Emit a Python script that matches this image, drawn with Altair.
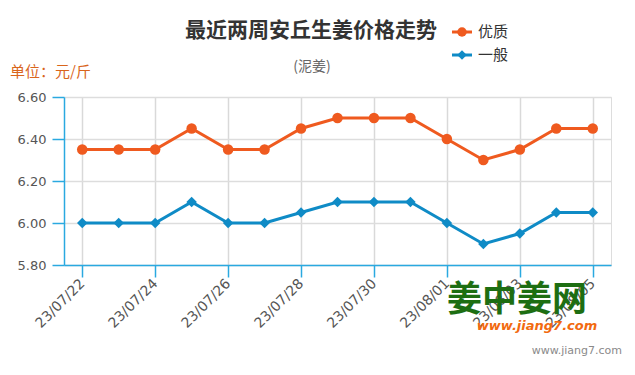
import altair as alt
import pandas as pd

dates = ["23/07/22", "23/07/23", "23/07/24", "23/07/25", "23/07/26", "23/07/27", "23/07/28",
         "23/07/29", "23/07/30", "23/07/31", "23/08/01", "23/08/02", "23/08/03", "23/08/04", "23/08/05"]
premium = [6.35, 6.35, 6.35, 6.45, 6.35, 6.35, 6.45, 6.50, 6.50, 6.50, 6.40, 6.30, 6.35, 6.45, 6.45]
ordinary = [6.00, 6.00, 6.00, 6.10, 6.00, 6.00, 6.05, 6.10, 6.10, 6.10, 6.00, 5.90, 5.95, 6.05, 6.05]
series_names = ["优质", "一般"]
colors = ["#ef5a1f", "#0f8bc6"]
shapes = ["circle", "diamond"]
y_ticks = [5.8, 6.0, 6.2, 6.4, 6.6]
x_tick_idx = [0, 2, 4, 6, 8, 10, 12, 14]

rows = []
for i, d in enumerate(dates):
    rows.append({"idx": i, "date": d, "series": series_names[0], "price": premium[i]})
    rows.append({"idx": i, "date": d, "series": series_names[1], "price": ordinary[i]})
df = pd.DataFrame(rows)

label_expr = "[" + ",".join("'%s'" % d for d in dates) + "][datum.value]"
AXIS_BLUE = "#2aa9e0"
NUM_FONT = "DejaVu Sans"
CJK = "Noto Sans CJK SC"

x_enc = alt.X("idx:Q",
              scale=alt.Scale(domain=[-0.5, len(dates) - 0.5], nice=False, zero=False),
              axis=alt.Axis(values=x_tick_idx, labelExpr=label_expr, title=None,
                            labelAngle=-45, labelAlign="right", labelBaseline="middle",
                            labelPadding=4, tickSize=12, tickColor=AXIS_BLUE,
                            domainColor=AXIS_BLUE, domainWidth=1.5, tickWidth=1.5,
                            grid=True, gridColor="#d9d9d9", gridWidth=1.5,
                            labelColor="#555555", labelFont=NUM_FONT, labelFontSize=14))
y_enc = alt.Y("price:Q",
              scale=alt.Scale(domain=[5.8, 6.6], nice=False, zero=False),
              axis=alt.Axis(values=y_ticks, format=".2f", title=None,
                            tickSize=12, tickColor=AXIS_BLUE, tickWidth=1.5,
                            domainColor=AXIS_BLUE, domainWidth=1.5,
                            grid=True, gridColor="#dddddd", gridWidth=1.5,
                            labelColor="#555555", labelFont=NUM_FONT, labelFontSize=13,
                            labelPadding=6))
color_enc = alt.Color("series:N", scale=alt.Scale(domain=series_names, range=colors), legend=None)
shape_enc = alt.Shape("series:N", scale=alt.Scale(domain=series_names, range=shapes), legend=None)

base = alt.Chart(df)
lines = base.mark_line(strokeWidth=3).encode(x=x_enc, y=y_enc, color=color_enc, detail="series:N")
points = base.mark_point(filled=True, size=110, opacity=1).encode(
    x=alt.X("idx:Q"), y=alt.Y("price:Q"), color=color_enc, shape=shape_enc)

# Titles
one = pd.DataFrame({"t": [0]})
title = alt.Chart(one).mark_text(text="最近两周安丘生姜价格走势", font=CJK, fontSize=21,
                                 fontWeight="bold", color="#333333", align="center",
                                 baseline="middle").encode(x=alt.value(247), y=alt.value(-66))
subtitle = alt.Chart(one).mark_text(text="(泥姜)", font=CJK, fontSize=14, color="#666666",
                                    align="center", baseline="middle").encode(
    x=alt.value(248), y=alt.value(-30))
unit = alt.Chart(one).mark_text(text="单位：元/斤", font=CJK, fontSize=15, color="#d9651c",
                                align="left", baseline="middle").encode(
    x=alt.value(-54), y=alt.value(-25))

# Legend (custom)
leg = []
for k, name in enumerate(series_names):
    ly = -65 + 23 * k
    ldf = pd.DataFrame({"series": [name]})
    leg.append(alt.Chart(ldf).mark_rule(strokeWidth=3, color=colors[k]).encode(
        x=alt.value(388), x2=alt.value(408), y=alt.value(ly)))
    leg.append(alt.Chart(ldf).mark_point(filled=True, size=90, opacity=1, color=colors[k],
                                         shape=shapes[k]).encode(
        x=alt.value(398), y=alt.value(ly)))
    leg.append(alt.Chart(ldf).mark_text(font=CJK, fontSize=15, color="#333333", align="left",
                                        baseline="middle").encode(
        text="series:N", x=alt.value(414), y=alt.value(ly)))

# Watermarks
logo = alt.Chart(one).mark_text(text="姜中姜网", font=CJK, fontSize=35, fontWeight="bold",
                                color="#1d6e12", align="center", baseline="middle").encode(
    x=alt.value(453), y=alt.value(203))
logo_url = alt.Chart(one).mark_text(text="www.jiang7.com", font="DejaVu Sans", fontSize=13,
                                    fontWeight="bold", fontStyle="italic", color="#f26a10",
                                    align="center", baseline="middle").encode(
    x=alt.value(473), y=alt.value(229))
site = alt.Chart(one).mark_text(text="www.jiang7.com", font="DejaVu Sans", fontSize=11,
                                color="#8a8a8a", align="right", baseline="middle").encode(
    x=alt.value(558), y=alt.value(254))

chart = alt.layer(lines, points, title, subtitle, unit, *leg, logo, logo_url, site).properties(
    width=547, height=168,
    autosize=alt.AutoSizeParams(type="none"),
    padding={"left": 56, "top": 89, "right": 16, "bottom": 102},
).configure_view(stroke=None).configure(background="white")

chart.save("out.html", embed_options={"renderer": "svg", "actions": False})
